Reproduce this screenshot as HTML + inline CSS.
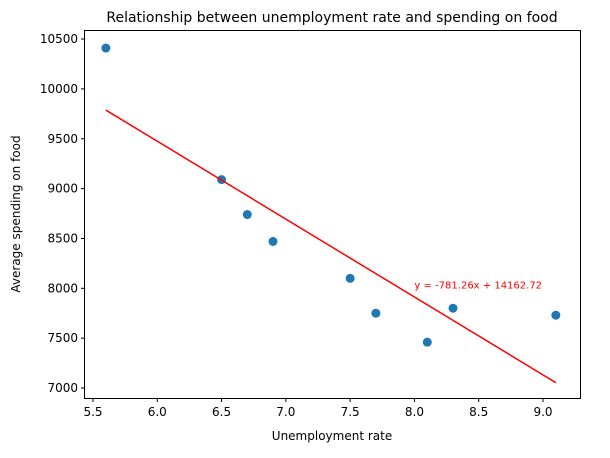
<!DOCTYPE html>
<html><head><meta charset="utf-8"><style>
body{margin:0;background:#fff;font-family:"Liberation Sans","DejaVu Sans",sans-serif;}
svg text{font-family:"DejaVu Sans","Liberation Sans",sans-serif;}
</style></head><body>
<svg id="chart" width="610" height="453" xmlns="http://www.w3.org/2000/svg">
<rect width="610" height="453" fill="#fff"/>
<text x="332" y="22" font-size="14" text-anchor="middle">Relationship between unemployment rate and spending on food</text>
<g id="plot"></g>
<rect x="84.5" y="30.5" width="496" height="368" fill="none" stroke="#000" stroke-width="1"/>
<text x="332" y="440" font-size="12" text-anchor="middle">Unemployment rate</text>
<text transform="translate(20,214) rotate(-90)" font-size="12" text-anchor="middle">Average spending on food</text>
</svg>
<script>
const xVals=[5.6,6.5,6.7,6.9,7.5,7.7,8.1,8.3,9.1];
const yVals=[10410,9090,8740,8470,8100,7750,7460,7800,7730];
const xTicks=[5.5,6.0,6.5,7.0,7.5,8.0,8.5,9.0];
const yTicks=[7000,7500,8000,8500,9000,9500,10000,10500];
const slope=-781.26, intercept=14162.72;
const fitLabel="y = -781.26x + 14162.72";
const NS="http://www.w3.org/2000/svg";
const sx=v=>93+(v-5.5)*128.57;
const sy=v=>388-(v-7000)*0.0997;
const g=document.getElementById('plot');
function mk(t,a){const e=document.createElementNS(NS,t);for(const k in a)e.setAttribute(k,a[k]);g.appendChild(e);return e;}
xTicks.forEach(t=>{
  const l=mk('line',{x1:sx(t),x2:sx(t),y1:398.5,y2:402,stroke:'#000'});
  
  
  const tx=mk('text',{x:sx(t),y:416,'font-size':12,'text-anchor':'middle'});
  tx.textContent=t.toFixed(1);
  
  
});
yTicks.forEach(t=>{
  const l=mk('line',{x1:81,x2:84.5,y1:sy(t),y2:sy(t),stroke:'#000'});
  
  
  const tx=mk('text',{x:78,y:sy(t)+4,'font-size':12,'text-anchor':'end'});
  tx.textContent=t;
  
  
});
xVals.forEach((x,i)=>{
  const c=mk('circle',{cx:sx(x),cy:sy(yVals[i]),r:4.5,fill:'#1f77b4'});
  
  
});
const x0=Math.min(...xVals),x1=Math.max(...xVals);
const ln=mk('line',{x1:sx(x0),y1:sy(slope*x0+intercept),x2:sx(x1),y2:sy(slope*x1+intercept),stroke:'red','stroke-width':1.5});


const lt=mk('text',{x:sx(8.0),y:sy(8000),'font-size':10,fill:'red'});
lt.textContent=fitLabel;


</script>
</body></html>
